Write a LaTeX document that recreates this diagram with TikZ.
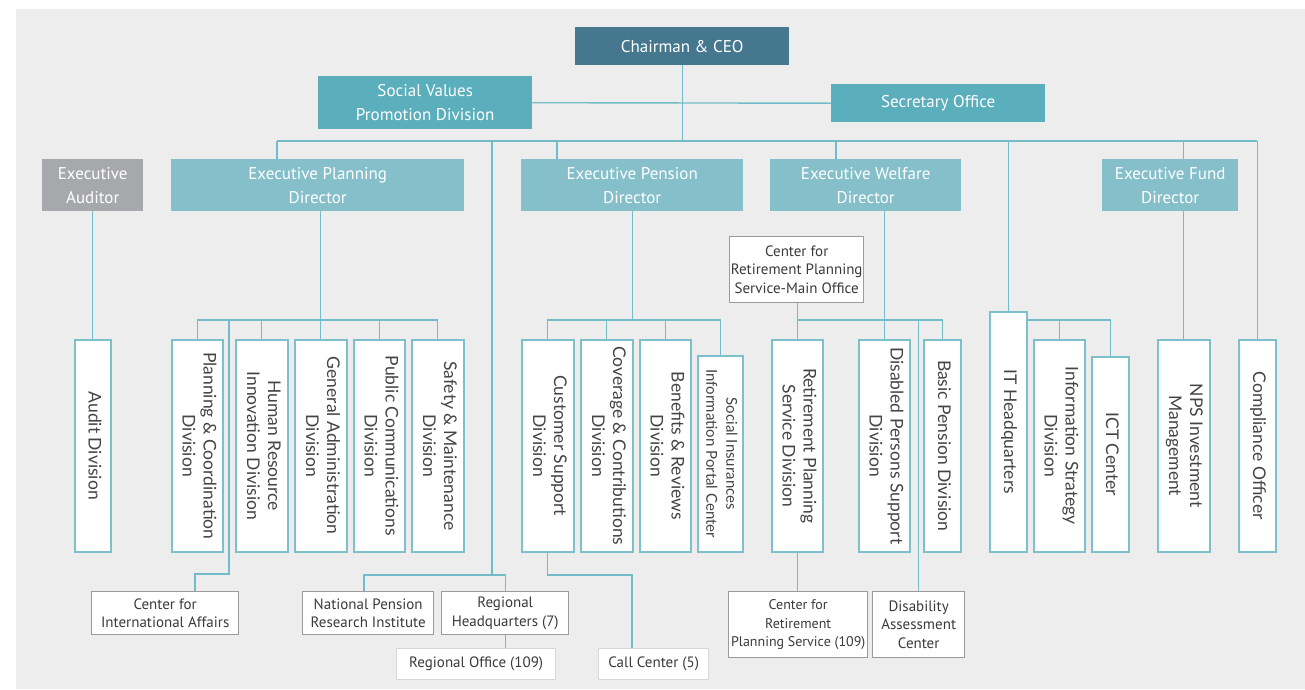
\documentclass[tikz,border=0pt]{standalone}
\usepackage{fontspec}
\setmainfont{PT Sans}
\newfontfamily\vfont{Lato}
\usepackage{graphicx}
\definecolor{bg}{HTML}{EDEDED}
\definecolor{ceoc}{HTML}{45788F}
\definecolor{midc}{HTML}{5BAEBC}
\definecolor{dirc}{HTML}{85BFCA}
\definecolor{audc}{HTML}{A7A8AB}
\definecolor{cline}{HTML}{72BCC8}
\definecolor{vline}{HTML}{7DC0CC}
\definecolor{gline}{HTML}{9B9B9B}
\definecolor{lgline}{HTML}{D8D8D8}
\definecolor{vtext}{HTML}{444444}
\definecolor{btext}{HTML}{3A3A3A}
\newcommand\vt[1]{\rotatebox{-90}{\begin{tabular}{@{}c@{}}#1\end{tabular}}}
\newcommand\bx[7]{\node[#2, anchor=north west, minimum width=#5pt-#3pt, minimum height=#6pt-#4pt] (#1) at (#3,#4) {#7};}
\begin{document}
\begin{tikzpicture}[x=1pt,y=-1pt,
  hdr/.style={fill=#1, text=white, font=\fontsize{17}{24}\selectfont, align=center, inner sep=0pt},
  vbox/.style={draw=vline, line width=1.5pt, fill=white, inner sep=0pt, text=vtext, font=\vfont\fontsize{17.5}{21}\selectfont},
  sbox/.style={vbox, font=\vfont\fontsize{15}{20}\selectfont},
  gbox/.style={draw=gline, line width=1.4pt, fill=white, inner sep=0pt, align=center, text=btext, font=\fontsize{15}{18.5}\selectfont},
  nbox/.style={gbox, font=\fontsize{14}{18.5}\selectfont},
  lbox/.style={gbox, draw=lgline},
  conn/.style={draw=cline, line width=1.4pt}]
\useasboundingbox (0,0) rectangle (1305,689);
\fill[white] (0,0) rectangle (1305,689);
\fill[bg] (16,9) rectangle (1305,689);

% header boxes
\bx{ceo}{hdr=ceoc}{575}{27}{789}{65}{Chairman \& CEO}
\bx{svp}{hdr=midc}{318}{76}{532}{129}{Social Values\\Promotion Division}
\bx{sec}{hdr=midc}{831}{84}{1045}{122}{Secretary Office}
\bx{aud}{hdr=audc}{42}{159}{143}{211}{Executive\\Auditor}
\bx{epd}{hdr=dirc}{171}{159}{464}{211}{Executive Planning\\Director}
\bx{epn}{hdr=dirc}{521}{159}{743}{211}{Executive Pension\\Director}
\bx{ewd}{hdr=dirc}{770}{159}{961}{211}{Executive Welfare\\Director}
\bx{efd}{hdr=dirc}{1102}{159}{1238}{211}{Executive Fund\\Director}

% vertical boxes
\bx{audd}{vbox}{74}{339}{110}{551}{\vt{Audit Division}}
\bx{pcd}{vbox}{171}{339}{222}{551}{\vt{Planning \& Coordination\\Division}}
\bx{hrd}{vbox}{235}{339}{287}{551}{\vt{Human Resource\\Innovation Division}}
\bx{gad}{vbox}{294}{339}{346}{551}{\vt{General Administration\\Division}}
\bx{pcm}{vbox}{353}{339}{404}{551}{\vt{Public Communications\\Division}}
\bx{smd}{vbox}{411}{339}{463}{551}{\vt{Safety \& Maintenance\\Division}}
\bx{csd}{vbox}{521}{339}{573}{551}{\vt{Customer Support\\Division}}
\bx{ccd}{vbox}{580}{339}{632}{551}{\vt{Coverage \& Contributions\\Division}}
\bx{brd}{vbox}{639}{339}{690}{551}{\vt{Benefits \& Reviews\\Division}}
\bx{sip}{sbox}{697}{355}{742}{551}{\vt{Social Insurances\\Information Portal Center}}
\bx{rps}{vbox}{771}{339}{822}{551}{\vt{Retirement Planning\\Service Division}}
\bx{dps}{vbox}{858}{339}{909}{551}{\vt{Disabled Persons Support\\Division}}
\bx{bpd}{vbox}{923}{339}{960}{551}{\vt{Basic Pension Division}}
\bx{ith}{vbox}{989}{311}{1026}{551}{\vt{IT Headquarters}}
\bx{isd}{vbox}{1033}{339}{1084}{551}{\vt{Information Strategy\\Division}}
\bx{ict}{vbox}{1091}{356}{1128}{551}{\vt{ICT Center}}
\bx{nps}{vbox}{1157}{339}{1209}{551}{\vt{NPS Investment\\Management}}
\bx{cpl}{vbox}{1238}{339}{1275}{551}{\vt{Compliance Officer}}

% gray bordered boxes
\bx{crm}{gbox}{729}{236}{863}{302}{Center for\\Retirement Planning\\Service-Main Office}
\bx{cia}{gbox}{91}{591}{238}{634}{Center for\\International Affairs}
\bx{npri}{gbox}{302}{591}{433}{634}{National Pension\\Research Institute}
\bx{rhq}{gbox}{441}{591}{568}{634}{Regional\\Headquarters (7)}
\bx{rof}{lbox}{396}{648}{555}{679}{Regional Office (109)}
\bx{cc}{lbox}{598}{648}{708}{679}{Call Center (5)}
\bx{crps}{nbox}{728}{591}{867}{657}{Center for\\Retirement\\Planning Service (109)}
\bx{dac}{gbox}{872}{591}{964}{657}{Disability\\Assessment\\Center}

% coordinates
\coordinate (busL) at (277,141);
\coordinate (py) at (0,320);
\coordinate (bR) at (492,141);
\coordinate (jR) at (492,575);
\coordinate (jN) at (364,575);
\coordinate (bP) at (557,141);
\coordinate (bW) at (836,141);
\coordinate (ciaX) at (229,320);
\coordinate (ciaY) at (195,574);
\coordinate (ccX) at (632,575);

% top connectors
\draw[conn] (svp.east) -- (sec.west);
\draw[conn] (ceo.south) -- (ceo.south |- busL);
\draw[conn] (busL) -- (cpl.north |- busL);
\draw[conn] (busL) -- (busL |- epd.north);
\draw[conn] (bR) -- (jR);
\draw[conn] (jN |- npri.north) |- (rhq.north |- jR) -- (rhq.north);
\draw[conn] (rhq.south) -- (rhq.south |- rof.north);
\draw[conn] (bP) -- (bP |- epn.north);
\draw[conn] (bW) -- (bW |- ewd.north);
\draw[conn] (ith.north |- busL) -- (ith.north);
\draw[conn] (nps.north |- busL) -- (nps.north |- efd.north);
\draw[conn] (nps.north |- efd.south) -- (nps.north);
\draw[conn] (cpl.north |- busL) -- (cpl.north);
\draw[conn] (audd.north |- aud.south) -- (audd.north);

% planning
\draw[conn] (gad.north |- epd.south) -- (gad.north);
\draw[conn] (pcd.north) -- (pcd.north |- py) -- (smd.north |- py) -- (smd.north);
\draw[conn] (hrd.north) -- (hrd.north |- py);
\draw[conn] (pcm.north) -- (pcm.north |- py);
\draw[conn] (ciaX) -- (ciaX |- ciaY) -- (ciaY) -- (ciaY |- cia.north);

% pension
\draw[conn] (epn.south) -- (epn.south |- py);
\draw[conn] (csd.north) -- (csd.north |- py) -- (sip.north |- py) -- (sip.north);
\draw[conn] (ccd.north) -- (ccd.north |- py);
\draw[conn] (brd.north) -- (brd.north |- py);
\draw[conn] (csd.south) |- (ccX) -- (ccX |- cc.north);

% welfare
\draw[conn] (rps.north |- crm.south) -- (rps.north);
\draw[conn] (rps.north |- py) -- (bpd.north |- py) -- (bpd.north);
\draw[conn] (dps.north |- ewd.south) -- (dps.north);
\draw[conn] (dac.north |- py) -- (dac.north);
\draw[conn] (rps.south) -- (rps.south |- crps.north);

% IT
\draw[conn] (ith.east |- py) -- (ict.north |- py) -- (ict.north);
\draw[conn] (isd.north) -- (isd.north |- py);
\end{tikzpicture}
\end{document}
